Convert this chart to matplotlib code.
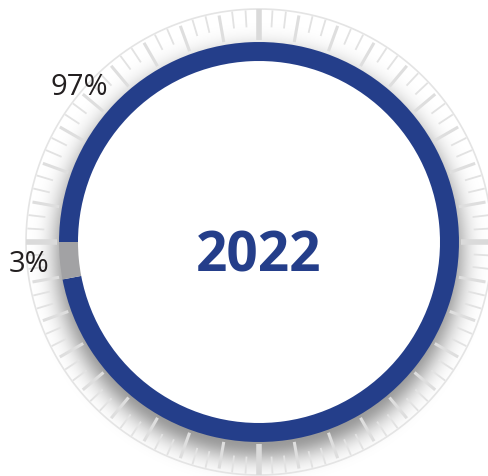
import numpy as np
import matplotlib.pyplot as plt

# data
shares = [97, 3]
share_labels = ['97%', '3%']
label_angles = [139, 185]   # degrees, where the % labels sit round the dial
year_label = '2022'

blue = '#243e8a'
grey = '#a2a2a4'

W, H = 488, 476
cx, cy = 259, H - 242
r_ring = 200
ring_w = 19
r_dial = 233

fig = plt.figure(figsize=(W / 100, H / 100), dpi=100)
ax = fig.add_axes([0, 0, 1, 1])

# soft shadow under the ring
xx, yy = np.meshgrid(np.arange(W) + 0.5, np.arange(H) + 0.5)
d_sh = np.hypot(xx - cx, yy - (cy - 12))
d_c = np.hypot(xx - cx, yy - cy)
alpha = 0.4 * np.exp(-((np.clip(d_sh - 188, 0, None)) / 20.0) ** 2)
alpha[d_c < r_ring - 2] = 0
shadow = np.zeros((H, W, 4))
shadow[..., 3] = alpha
ax.imshow(shadow, extent=(0, W, 0, H), origin='lower', zorder=1, interpolation='bilinear')

# dial outline and ticks
t = np.linspace(0, 2 * np.pi, 400)
ax.plot(cx + r_dial * np.cos(t), cy + r_dial * np.sin(t), color='#e4e4e4', lw=1.2, zorder=2)
n_ticks = 108
for i in range(n_ticks):
    a = np.radians(i * 360 / n_ticks)
    if i % 27 == 0:
        r0, r1, lw, c = 202, 233, 4.0, '#dadada'
    elif i % 3 == 0:
        r0, r1, lw, c = 203, 230, 2.2, '#dedede'
    else:
        r0, r1, lw, c = 215, 232, 1.3, '#e2e2e2'
    ax.plot([cx + r0 * np.cos(a), cx + r1 * np.cos(a)],
            [cy + r0 * np.sin(a), cy + r1 * np.sin(a)],
            color=c, lw=lw, solid_capstyle='butt', zorder=3)

# ring
start = 180 + shares[1] / sum(shares) * 360
ax.pie(shares, colors=[blue, grey], startangle=start, counterclock=True,
       radius=r_ring, center=(cx, cy),
       wedgeprops=dict(width=ring_w, linewidth=0), frame=True)
for wd in ax.patches:
    wd.set_zorder(4)

# labels
for lab, ang in zip(share_labels, label_angles):
    a = np.radians(ang)
    rr = 238 if ang < 170 else 231
    ax.text(cx + rr * np.cos(a), cy + rr * np.sin(a) - 2, lab, ha='center', va='center',
            fontsize=21, color='#231f20', family=['Open Sans', 'DejaVu Sans'], zorder=5)

ax.text(cx, cy - 15, year_label, ha='center', va='center', fontsize=39.5,
        fontweight='bold', color=blue, family=['Open Sans', 'DejaVu Sans'], zorder=5)

ax.set_xlim(0, W)
ax.set_ylim(0, H)
ax.set_aspect('equal')
ax.axis('off')

fig.savefig('out.png', dpi=100)
